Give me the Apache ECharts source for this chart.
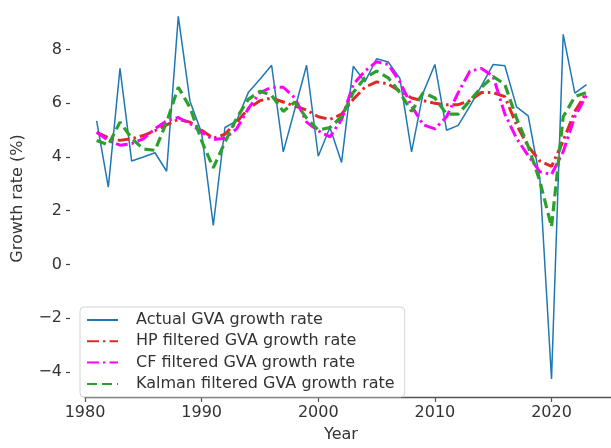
<!DOCTYPE html>
<html>
<head>
<meta charset="utf-8">
<script src="https://cdn.jsdelivr.net/npm/echarts@6/dist/echarts.min.js"></script>
<style>html,body{margin:0;padding:0;background:#fff;}#c{width:611px;height:448px;}</style>
</head>
<body>
<div id="c"></div>
<script>
const years = [1981,1982,1983,1984,1985,1986,1987,1988,1989,1990,1991,1992,1993,1994,1995,1996,1997,1998,1999,2000,2001,2002,2003,2004,2005,2006,2007,2008,2009,2010,2011,2012,2013,2014,2015,2016,2017,2018,2019,2020,2021,2022,2023];
const actual = [5.35,2.88,7.3,3.85,4.0,4.16,3.47,9.24,6.08,4.9,1.45,5.1,5.35,6.4,6.9,7.42,4.19,5.8,7.42,4.03,5.1,3.8,7.38,6.8,7.66,7.54,6.93,4.19,6.4,7.45,5.0,5.18,5.9,6.66,7.45,7.4,5.87,5.53,3.2,-4.27,8.57,6.38,6.7];
const hp = [4.92,4.72,4.62,4.68,4.8,4.98,5.2,5.4,5.3,5.0,4.7,4.85,5.3,5.8,6.1,6.2,6.05,5.9,5.75,5.5,5.4,5.6,6.15,6.6,6.8,6.72,6.45,6.2,6.1,6.0,5.95,5.95,6.1,6.4,6.4,6.25,5.2,4.4,3.85,3.65,4.6,5.7,6.4];
const cf = [4.92,4.62,4.44,4.5,4.68,5.05,5.35,5.47,5.25,4.92,4.65,4.7,5.05,5.8,6.4,6.6,6.6,6.2,5.3,4.98,4.75,5.4,6.7,7.2,7.55,7.45,6.8,5.9,5.2,5.05,5.5,6.4,7.2,7.3,7.0,5.6,4.7,4.05,3.45,3.35,4.2,5.5,6.3];
const kalman = [4.62,4.45,5.3,4.7,4.3,4.25,5.3,6.6,5.85,4.6,3.6,4.55,5.45,6.15,6.45,6.3,5.7,6.05,5.45,5.0,5.1,5.5,6.4,6.95,7.2,6.95,6.4,5.7,6.4,6.2,5.6,5.6,6.1,6.6,7.0,6.7,5.45,4.4,3.1,1.4,5.5,6.25,6.4];
const xTicks = [1980,1990,2000,2010,2020];
const yTicks = [-4,-2,0,2,4,6,8];
const seriesNames = ['Actual GVA growth rate','HP filtered GVA growth rate','CF filtered GVA growth rate','Kalman filtered GVA growth rate'];

const pair = arr => years.map((y,i)=>[y,arr[i]]);
const font = 'DejaVu Sans';
const chart = echarts.init(document.getElementById('c'), null, {renderer:'canvas'});
chart.setOption({
  animation:false,
  backgroundColor:'#ffffff',
  grid:{left:85, right:-26.5, top:0, bottom:43, containLabel:false},
  xAxis:{
    type:'value', min:1980, max:2025.1,
    name:'Year', nameLocation:'middle', nameGap:30,
    nameTextStyle:{fontFamily:font, fontSize:16, color:'#333', padding:[0,14,0,0]},
    axisLine:{show:true, onZero:false, lineStyle:{color:'#555', width:1.3}},
    axisTick:{show:true, length:5, lineStyle:{color:'#555', width:1.2}, customValues:xTicks},
    axisLabel:{fontFamily:font, fontSize:16, color:'#333', margin:8, customValues:xTicks, formatter:v=>String(v)},
    splitLine:{show:false}
  },
  yAxis:{
    type:'value', min:-4.94, max:9.85, offset:15,
    name:'Growth rate (%)', nameLocation:'middle', nameGap:44, nameRotate:90,
    nameTextStyle:{fontFamily:font, fontSize:16, color:'#333'},
    axisLine:{show:false},
    axisTick:{show:true, length:4, lineStyle:{color:'#444', width:1.2}, customValues:yTicks},
    axisLabel:{fontFamily:font, fontSize:16, color:'#333', margin:8, customValues:yTicks,
      formatter:v=>String(v).replace('-','\u2212')},
    splitLine:{show:false}
  },
  legend:{
    orient:'vertical', left:80, top:307,
    data:seriesNames,
    itemWidth:31, itemHeight:14, itemGap:3.3,
    padding:[4,10,4,6],
    backgroundColor:'rgba(255,255,255,0.85)',
    borderColor:'#d4d4d4', borderWidth:1, borderRadius:4,
    itemStyle:{opacity:0},
    textStyle:{fontFamily:font, fontSize:16, color:'#333', lineHeight:18, padding:[0,0,0,13]}
  },
  series:[
    {name:seriesNames[0], type:'line', data:pair(actual), symbol:'none', lineStyle:{color:'#1f77b4', width:1.5}, itemStyle:{color:'#1f77b4'}},
    {name:seriesNames[1], type:'line', data:pair(hp), symbol:'none', lineStyle:{color:'#e0282a', width:3, type:[12,4,2.5,4]}, itemStyle:{color:'#e0282a'}},
    {name:seriesNames[2], type:'line', data:pair(cf), symbol:'none', lineStyle:{color:'#ff00ff', width:3, type:[12,4,2.5,4]}, itemStyle:{color:'#ff00ff'}},
    {name:seriesNames[3], type:'line', data:pair(kalman), symbol:'none', lineStyle:{color:'#2ca02c', width:3.2, type:[10,5]}, itemStyle:{color:'#2ca02c'}}
  ]
});
</script>
</body>
</html>
